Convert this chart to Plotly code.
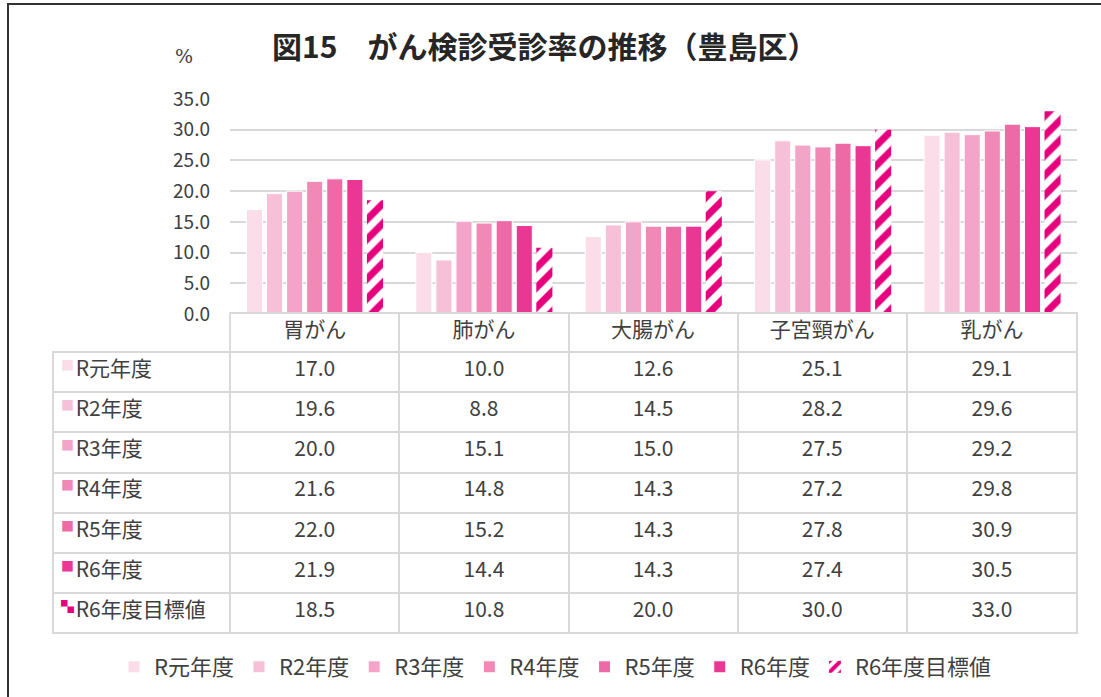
import plotly.graph_objects as go

# ---- data ----
categories = ["胃がん", "肺がん", "大腸がん", "子宮頸がん", "乳がん"]
series_names = ["R元年度", "R2年度", "R3年度", "R4年度", "R5年度", "R6年度", "R6年度目標値"]
r1 = [17.0, 10.0, 12.6, 25.1, 29.1]
r2 = [19.6, 8.8, 14.5, 28.2, 29.6]
r3 = [20.0, 15.1, 15.0, 27.5, 29.2]
r4 = [21.6, 14.8, 14.3, 27.2, 29.8]
r5 = [22.0, 15.2, 14.3, 27.8, 30.9]
r6 = [21.9, 14.4, 14.3, 27.4, 30.5]
target = [18.5, 10.8, 20.0, 30.0, 33.0]
series_values = [r1, r2, r3, r4, r5, r6, target]
y_ticks = [0, 5, 10, 15, 20, 25, 30, 35]

colors = ["#fadde8", "#f6c1d8", "#f2a5c8", "#f089b5", "#ee6aa6", "#eb3794", "#e6007e"]
markers = ["■", "■", "■", "■", "■", "■", "▚"]

W, H = 1101, 697
FONT = "Noto Sans CJK JP"
TXT = "#404040"
GRID = "#d9d9d9"
CLEAR = "rgba(0,0,0,0)"

def px(x):
    return x / W

def py(y):
    return 1 - y / H

TABLE_TOP = py(313)
HEADER_H = 39
ROW_H = 40.2

fig = go.Figure()

for i, (name, vals) in enumerate(zip(series_names, series_values)):
    if i < 6:
        fig.add_trace(go.Bar(
            x=categories, y=vals, name=name,
            marker=dict(color=colors[i], line=dict(color="white", width=1)),
            hoverinfo="y+name",
        ))
    else:
        fig.add_trace(go.Bar(
            x=categories, y=vals, name=name,
            marker=dict(color="white", line=dict(color="white", width=0),
                        pattern=dict(shape="/", fgcolor=colors[i], bgcolor="white",
                                     size=14, solidity=0.5, fillmode="replace")),
            hoverinfo="y+name",
        ))

# ---- data table (values) ----
row_labels = ["\u2002\u2009" + n for n in series_names]
columns = [row_labels]
for j in range(len(categories)):
    columns.append([f"{series_values[i][j]:.1f}" for i in range(len(series_names))])

fig.add_trace(go.Table(
    domain=dict(x=[px(53), px(1077)], y=[0.06, TABLE_TOP]),
    columnwidth=[177, 169, 169, 169, 169, 170],
    header=dict(
        values=[""] + categories,
        height=HEADER_H,
        align="center",
        fill=dict(color=[CLEAR] + ["white"] * 5),
        line=dict(color=[CLEAR] + [GRID] * 5, width=[0, 2, 2, 2, 2, 2]),
        font=dict(family=FONT, size=21, color=TXT),
    ),
    cells=dict(
        values=columns,
        height=ROW_H,
        align=["left"] + ["center"] * 5,
        fill=dict(color="white"),
        line=dict(color=GRID, width=2),
        font=dict(family=FONT, size=21, color=TXT),
    ),
))

# ---- legend keys inside the table's row headers ----
fig.add_trace(go.Table(
    domain=dict(x=[px(53), px(80)], y=[0.06, TABLE_TOP]),
    header=dict(values=[""], height=HEADER_H, fill=dict(color=CLEAR),
                line=dict(color=CLEAR, width=0)),
    cells=dict(
        values=[markers],
        height=ROW_H,
        align="left",
        fill=dict(color=CLEAR),
        line=dict(color=CLEAR, width=0),
        font=dict(family=FONT, size=13, color=[colors]),
    ),
))

fig.update_layout(
    width=W, height=H,
    margin=dict(l=0, r=0, t=0, b=0, autoexpand=False),
    paper_bgcolor="white", plot_bgcolor="white",
    barmode="group", bargap=0.17, bargroupgap=0.2,
    font=dict(family=FONT, color=TXT),
    xaxis=dict(domain=[px(230), px(1077)], showticklabels=False, showgrid=False,
               zeroline=False, showline=False, ticks=""),
    yaxis=dict(domain=[py(314), py(99)], range=[0, 35], tickvals=y_ticks,
               tickformat=".1f", showgrid=True, gridcolor=GRID, gridwidth=2,
               zeroline=False, showline=False, ticks="", ticklabelstandoff=19,
               tickfont=dict(family=FONT, size=19, color=TXT)),
    showlegend=True,
    legend=dict(orientation="h", x=px(114), xanchor="left", y=py(667), yanchor="middle",
                font=dict(family=FONT, size=22, color=TXT), traceorder="normal",
                itemclick=False, itemwidth=30),
    annotations=[
        dict(text="<b>図15　がん検診受診率の推移（豊島区）</b>", x=px(544), y=py(45),
             xref="paper", yref="paper", yanchor="middle", showarrow=False,
             font=dict(family=FONT, size=30, color="#262626")),
        dict(text="%", x=px(173), y=py(56), xref="paper", yref="paper", yanchor="middle",
             showarrow=False,
             font=dict(family="DejaVu Serif", size=19, color=TXT)),
    ],
    shapes=[
        dict(type="rect", xref="paper", yref="paper", x0=px(8), x1=1.05, y0=-0.05, y1=py(4),
             line=dict(color="#333333", width=2), fillcolor=CLEAR),
    ],
)

fig.write_html("out.html", config={"displayModeBar": False},
               post_script="document.body.style.margin='0';")
